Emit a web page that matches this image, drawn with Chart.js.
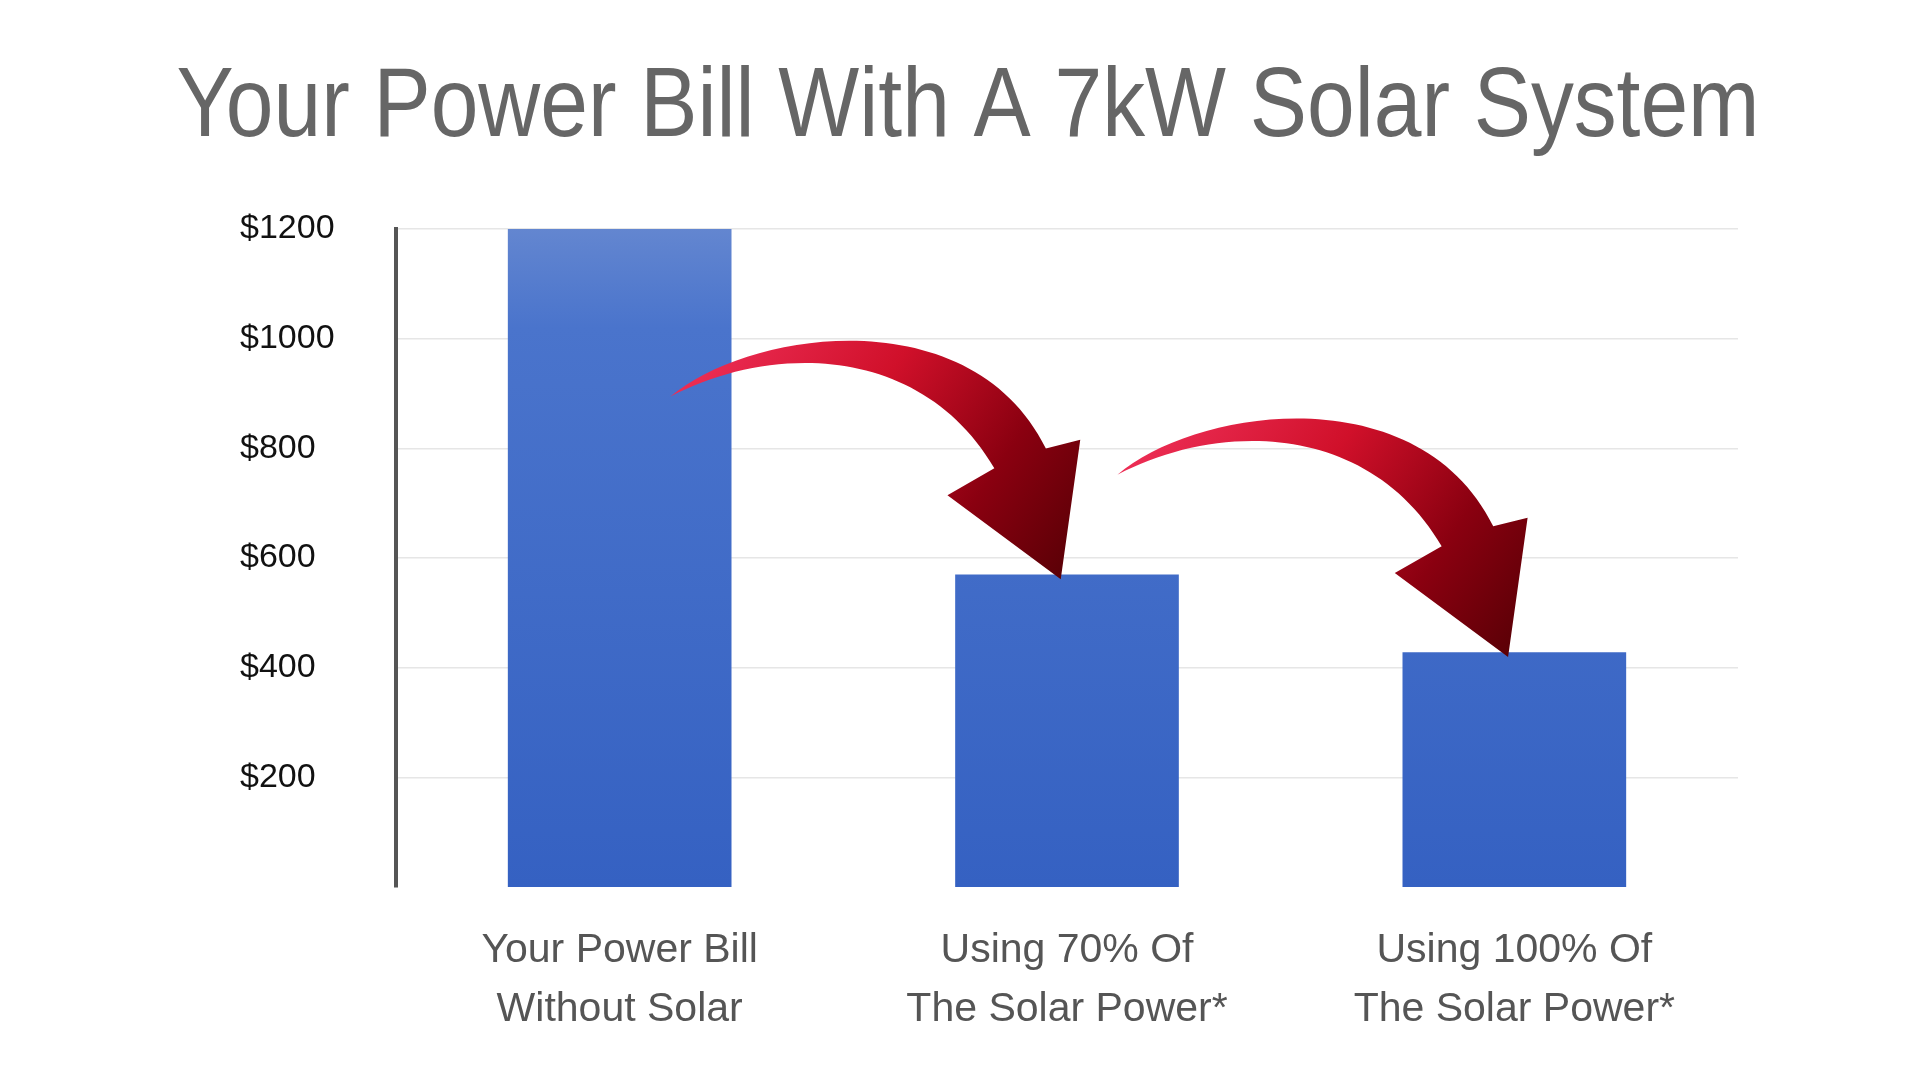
<!DOCTYPE html>
<html><head><meta charset="utf-8">
<script src="https://cdn.jsdelivr.net/npm/chart.js@4"></script>
<style>html,body{margin:0;padding:0;background:#fff}#wrap{width:1920px;height:1080px}</style>
</head><body><div id="wrap"><canvas id="c" width="1920" height="1080"></canvas></div>
<script>
const titleText = "Your Power Bill With A 7kW Solar System";
const categories = [["Your Power Bill","Without Solar"],["Using 70% Of","The Solar Power*"],["Using 100% Of","The Solar Power*"]];
const billValues = [1200, 570, 428];
const tickValues = [200, 400, 600, 800, 1000, 1200];

const titlePlugin = {
  id:'titleDraw',
  afterDraw(chart){
    const ctx = chart.ctx; ctx.save();
    ctx.font = '98px "Liberation Sans", Arial, sans-serif';
    ctx.fillStyle = '#666'; ctx.textBaseline='alphabetic';
    const w = ctx.measureText(titleText).width, target = 1583;
    ctx.translate(968, 136); ctx.scale(target/w, 1);
    ctx.textAlign='center'; ctx.fillText(titleText, 0, 0);
    ctx.restore();
  }
};

const arrowPlugin = {
  id:'arrows',
  afterDatasetsDraw(chart){
    const ctx = chart.ctx, meta = chart.getDatasetMeta(0), ys = chart.scales.y, xs = chart.scales.x;
    const catW = (xs.right - xs.left)/categories.length;
    const k = catW/363*317;
    const pts = {
      up:[[0.205,-0.174],[0.773,-0.252],[0.962,0.132]],
      hr:[1.050,0.110], tip:[1,0.467], hl:[0.710,0.252], join:[0.830,0.183],
      lo:[[0.647,-0.13],[0.268,-0.14],[0,0]]
    };
    for (let i=1;i<meta.data.length;i++){
      const b = meta.data[i];
      const Tx = b.x - 0.014*catW, Ty = ys.getPixelForValue(billValues[i]) + 0.015*(ys.bottom-ys.top);
      const Sx = Tx - k, Sy = Ty - 0.48*k;
      const P = p => [Sx + p[0]*k, Sy + p[1]*k];
      ctx.save();
      const g = ctx.createLinearGradient(Sx, Sy-0.2*k, Tx, Ty);
      g.addColorStop(0,'#f43560'); g.addColorStop(0.45,'#d0102a'); g.addColorStop(0.75,'#8a0010'); g.addColorStop(1,'#5a0006');
      ctx.fillStyle = g;
      ctx.beginPath(); ctx.moveTo(Sx,Sy);
      let a=P(pts.up[0]), c=P(pts.up[1]), e=P(pts.up[2]);
      ctx.bezierCurveTo(a[0],a[1],c[0],c[1],e[0],e[1]);
      let h=P(pts.hr); ctx.lineTo(h[0],h[1]);
      h=P(pts.tip); ctx.lineTo(h[0],h[1]);
      h=P(pts.hl); ctx.lineTo(h[0],h[1]);
      h=P(pts.join); ctx.lineTo(h[0],h[1]);
      a=P(pts.lo[0]); c=P(pts.lo[1]); e=P(pts.lo[2]);
      ctx.bezierCurveTo(a[0],a[1],c[0],c[1],e[0],e[1]);
      ctx.closePath(); ctx.fill();
      ctx.restore();
    }
  }
};

new Chart(document.getElementById('c'), {
  type:'bar',
  data:{labels:categories, datasets:[{data:billValues,
    backgroundColor(ctx){
      const ch = ctx.chart, ca = ch.chartArea; if(!ca) return '#3f68c8';
      const g = ch.ctx.createLinearGradient(0, ca.top, 0, ca.bottom);
      g.addColorStop(0,'#6386d0'); g.addColorStop(0.15,'#4a74cc'); g.addColorStop(1,'#3561c2');
      return g;
    },
    barPercentage:0.5, categoryPercentage:1, borderWidth:0}]},
  options:{
    responsive:false, animation:false,
    layout:{padding:{left:240, right:182, top:229, bottom:0}},
    plugins:{legend:{display:false}, tooltip:{enabled:false}, title:{display:false}},
    scales:{
      x:{grid:{display:false}, border:{display:false},
        afterFit(s){s.height=193;},
        ticks:{color:'#555', font:{family:'"Liberation Sans", Arial', size:41, lineHeight:1.45}, padding:26, maxRotation:0}},
      y:{min:0, max:1200,
        afterFit(s){s.width=156;},
        afterBuildTicks(s){s.ticks = tickValues.map(v=>({value:v}));},
        grid:{color:'#e6e6e6', lineWidth:1.5, drawTicks:false},
        border:{display:true, color:'#555', width:4},
        ticks:{crossAlign:'far', color:'#111', font:{family:'"Liberation Sans", Arial', size:34}, callback:v=>'$'+v}}
    }
  },
  plugins:[titlePlugin, arrowPlugin]
});
</script></body></html>
